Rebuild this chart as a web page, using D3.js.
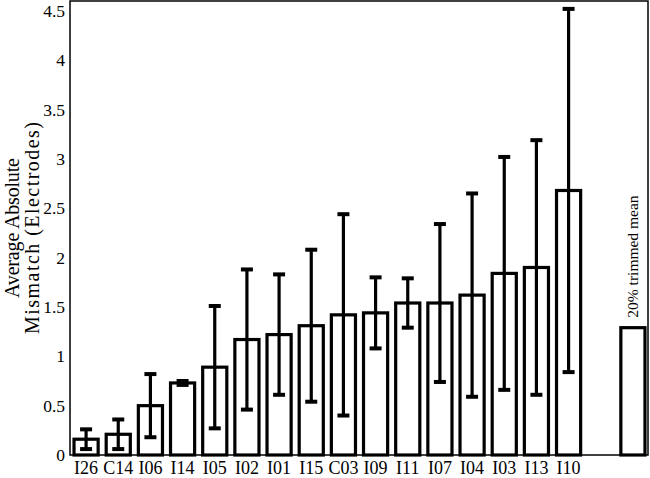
<!DOCTYPE html>
<html>
<head>
<meta charset="utf-8">
<script src="https://cdn.jsdelivr.net/npm/d3@7"></script>
<style>
  body { margin: 0; background: #fff; }
  svg { display: block; font-family: "Liberation Serif", "Times New Roman", serif; }
</style>
</head>
<body>
<svg width="650" height="478"></svg>
<script>
// subjects sorted by mean mismatch, last two slots: blank + trimmed mean
var subjects = ["I26", "C14", "I06", "I14", "I05", "I02", "I01", "I15",
  "C03", "I09", "I11", "I07", "I04", "I03", "I13", "I10"];
var means = [0.16, 0.21, 0.50, 0.73, 0.89, 1.17, 1.22, 1.31,
  1.42, 1.44, 1.54, 1.54, 1.62, 1.84, 1.90, 2.68];
var errors = [0.10, 0.15, 0.32, 0.02, 0.62, 0.71, 0.61, 0.77,
  1.02, 0.36, 0.25, 0.80, 1.03, 1.18, 1.29, 1.84];
var trimmedMean = 1.29;
var trimmedLabel = "20% trimmed mean";
var yTicks = [0, 0.5, 1, 1.5, 2, 2.5, 3, 3.5, 4, 4.5];

(function () {
  var svg = d3.select("svg");
  var mLeft = 70, mRight = 648, mTop = 1, mBottom = 455;

  var x = d3.scaleLinear().domain([0.5, 18.5]).range([mLeft, mRight + 1]);
  var y = d3.scaleLinear().domain([0, 4.6]).range([mBottom, mTop]);
  var barW = (x(1) - x(0)) * 0.75;

  // bars: 16 subjects, an empty slot, then the trimmed mean
  var bars = subjects.map(function (s, i) {
    return { pos: i + 1, value: means[i], err: errors[i] };
  });
  bars.push({ pos: 17, value: 0, err: null });
  bars.push({ pos: 18, value: trimmedMean, err: null });

  var g = svg.append("g");

  g.selectAll("rect.bar")
    .data(bars)
    .enter()
    .append("rect")
    .attr("class", "bar")
    .attr("x", function (d) { return x(d.pos) - barW / 2; })
    .attr("width", barW)
    .attr("y", function (d) { return y(d.value); })
    .attr("height", function (d) { return y(0) - y(d.value); })
    .attr("fill", "#fff")
    .attr("stroke", "#000")
    .attr("stroke-width", 3.2);

  // error bars
  var eb = g.selectAll("g.err")
    .data(bars.filter(function (d) { return d.err !== null; }))
    .enter()
    .append("g")
    .attr("class", "err")
    .attr("stroke", "#000");

  eb.append("line")
    .attr("x1", function (d) { return x(d.pos); })
    .attr("x2", function (d) { return x(d.pos); })
    .attr("y1", function (d) { return y(d.value - d.err); })
    .attr("y2", function (d) { return y(d.value + d.err); })
    .attr("stroke-width", 3.2);

  [-1, 1].forEach(function (sgn) {
    eb.append("line")
      .attr("x1", function (d) { return x(d.pos) - 6; })
      .attr("x2", function (d) { return x(d.pos) + 6; })
      .attr("y1", function (d) { return y(d.value + sgn * d.err); })
      .attr("y2", function (d) { return y(d.value + sgn * d.err); })
      .attr("stroke-width", 4);
  });

  // box
  svg.append("rect")
    .attr("x", mLeft)
    .attr("y", mTop)
    .attr("width", mRight - mLeft)
    .attr("height", mBottom - mTop)
    .attr("fill", "none")
    .attr("stroke", "#000")
    .attr("stroke-width", 1.5);

  // y tick labels
  svg.selectAll("text.ytick")
    .data(yTicks)
    .enter()
    .append("text")
    .attr("class", "ytick")
    .attr("x", 65)
    .attr("y", function (d) { return y(d); })
    .attr("dy", "0.35em")
    .attr("text-anchor", "end")
    .attr("font-size", 17.5)
    .text(function (d) { return d; });

  // x tick labels
  svg.selectAll("text.xtick")
    .data(subjects)
    .enter()
    .append("text")
    .attr("class", "xtick")
    .attr("x", function (d, i) { return x(i + 1); })
    .attr("y", 474)
    .attr("text-anchor", "middle")
    .attr("font-size", 18)
    .text(function (d) { return d; });

  // label above trimmed mean bar
  svg.append("text")
    .attr("transform", "translate(" + (x(18) + 5) + "," + (y(trimmedMean) - 10) + ") rotate(-90)")
    .attr("font-size", 15.5)
    .text(trimmedLabel);

  // y axis title
  var yl = svg.append("text")
    .attr("transform", "translate(0," + (mTop + mBottom) / 2 + ") rotate(-90)")
    .attr("text-anchor", "middle")
    .attr("font-size", 20);
  yl.append("tspan").attr("x", 0).attr("y", 19)
    .attr("textLength", 140).attr("lengthAdjust", "spacing")
    .text("Average Absolute");
  yl.append("tspan").attr("x", 0).attr("y", 39)
    .attr("textLength", 212).attr("lengthAdjust", "spacing")
    .text("Mismatch (Electrodes)");
})();
</script>
</body>
</html>
